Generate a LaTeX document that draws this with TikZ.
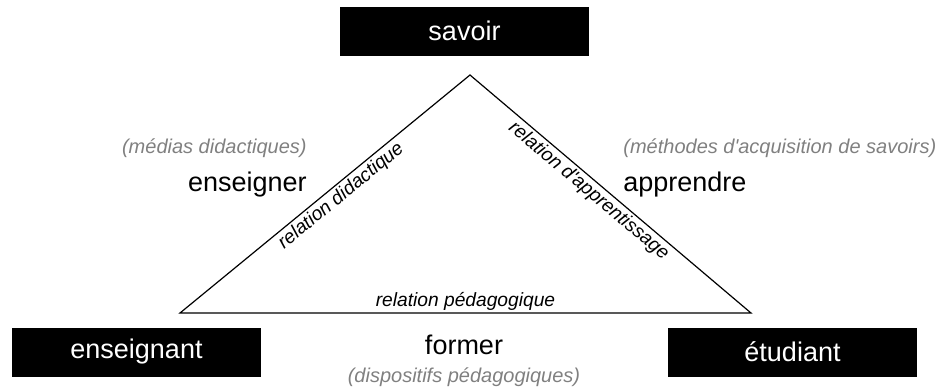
\documentclass[tikz,border=0pt]{standalone}
\usepackage{fontspec}
\setmainfont{Liberation Sans}[Ligatures=TeXOff]
\usepackage{tikz}
\usetikzlibrary{positioning}
\definecolor{note}{HTML}{808080}

\begin{document}
\begin{tikzpicture}[
  x=0.5pt,y=0.5pt,
  pole/.style={fill=black,text=white,minimum width=124.5pt,minimum height=24.5pt,
    inner sep=0pt,font=\fontsize{13.5}{16}\selectfont},
  verb/.style={inner sep=0pt,font=\fontsize{13.5}{16}\selectfont},
  gloss/.style={inner sep=0pt,text=note,font=\fontsize{10}{12}\selectfont\itshape},
  rel/.style={sloped,inner sep=1.2pt,font=\fontsize{9.6}{11}\selectfont\itshape},
  edge/.style={draw=black,line width=.6pt}
]
\useasboundingbox (0,0) rectangle (938,388);
\node[pole] (savoir) at (464.5,357) {savoir};
\node[pole] (ens) at (136.5,36) {enseignant};
\node[pole] (etu) at (792.5,36) {étudiant};
\coordinate (top) at (470,313);
\coordinate (bl) at (180,75);
\coordinate (br) at (751,75);
\draw[edge] (bl) -- node[rel,below,pos=.53] (rdid) {relation didactique} (top)
  -- node[rel,below,pos=.45] (rapp) {relation d'apprentissage} (br) -- cycle;
\path (bl) -- node[rel,above] (rped) {relation pédagogique} (br);
\node[gloss,anchor=east] (medias) at (307,240) {(médias didactiques)};
\node[verb,anchor=east] (enseigner) at (307,203) {enseigner};
\node[gloss,anchor=west] (methodes) at (623,240) {(méthodes d'acquisition de savoirs)};
\node[verb,anchor=west] (apprendre) at (623,203) {apprendre};
\node[verb] (former) at (464,43) {former};
\node[gloss] (dispositifs) at (464,11) {(dispositifs pédagogiques)};
\end{tikzpicture}
\end{document}
